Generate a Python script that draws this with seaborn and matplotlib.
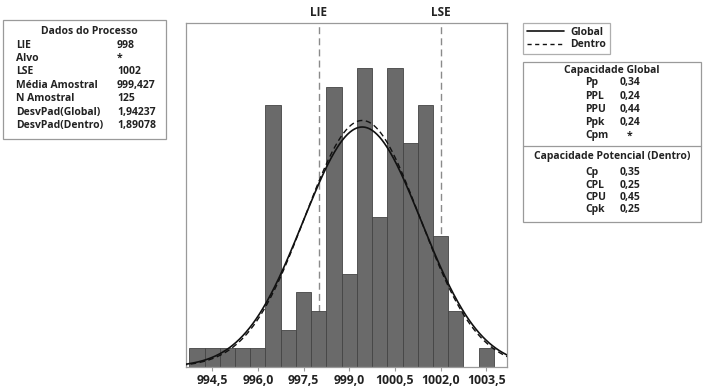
import numpy as np
import pandas as pd
import matplotlib
matplotlib.use("Agg")
import matplotlib.pyplot as plt
from matplotlib.patches import Rectangle
from matplotlib.lines import Line2D
import seaborn as sns

# ---------------- data ----------------
bin_centers = [994.0, 994.5, 995.0, 995.5, 996.0, 996.5, 997.0, 997.5, 998.0, 998.5,
               999.0, 999.5, 1000.0, 1000.5, 1001.0, 1001.5, 1002.0, 1002.5, 1003.0, 1003.5]
counts = [1, 1, 1, 1, 1, 14, 2, 4, 3, 15, 5, 16, 8, 16, 12, 14, 7, 3, 0, 1]
bin_width = 0.5
LIE = 998.0
LSE = 1002.0
mean = 999.427
n_amostral = 125
sd_global = 1.94237
sd_dentro = 1.89078
tick_values = [994.5, 996.0, 997.5, 999.0, 1000.5, 1002.0, 1003.5]
tick_labels = ["994,5", "996,0", "997,5", "999,0", "1000,5", "1002,0", "1003,5"]

dados_labels = ["LIE", "Alvo", "LSE", "Média Amostral", "N Amostral", "DesvPad(Global)", "DesvPad(Dentro)"]
dados_values = ["998", "*", "1002", "999,427", "125", "1,94237", "1,89078"]
glob_labels = ["Pp", "PPL", "PPU", "Ppk", "Cpm"]
glob_values = ["0,34", "0,24", "0,44", "0,24", "*"]
pot_labels = ["Cp", "CPL", "CPU", "Cpk"]
pot_values = ["0,35", "0,25", "0,45", "0,25"]

df = pd.DataFrame({"valor": bin_centers, "contagem": counts})

# ---------------- style ----------------
sns.set_theme(style="white")
plt.rcParams['font.family'] = ['Open Sans', 'DejaVu Sans']
TXT = "#222222"
FRAME = "#9a9a9a"
FW = "bold"

W, H = 710, 390
fig = plt.figure(figsize=(W / 100, H / 100), dpi=100)

def fx(px):
    return px / W

def fy(py):
    return 1 - py / H

ax = fig.add_axes([fx(186), fy(367), fx(507) - fx(186), fy(23) - fy(367)])

# spec limit lines behind bars
for v, lab in [(LIE, "LIE"), (LSE, "LSE")]:
    ax.axvline(v, color="#8a8a8a", lw=1.0, linestyle=(0, (5, 3)), zorder=0.5)
    ax.text(v, 1.012, lab, transform=ax.get_xaxis_transform(), ha="center", va="bottom",
            fontsize=8.5, fontweight=FW, color=TXT)

edges = [float(e) for e in np.arange(bin_centers[0] - bin_width / 2,
                                     bin_centers[-1] + bin_width, bin_width)]
sns.histplot(data=df, x="valor", weights="contagem", bins=edges, ax=ax, stat="count",
             color="#6a6a6a", edgecolor="#444444", linewidth=0.6, alpha=1.0, zorder=1)

xs = np.linspace(993.5, 1004.3, 400)
scale = n_amostral * bin_width
def npdf(x, m, s):
    return np.exp(-0.5 * ((x - m) / s) ** 2) / (s * np.sqrt(2 * np.pi))

sns.lineplot(x=xs, y=scale * npdf(xs, mean, sd_global), ax=ax, color="#111111", lw=1.2,
             zorder=3)
sns.lineplot(x=xs, y=scale * npdf(xs, mean, sd_dentro), ax=ax, color="#111111", lw=1.0,
             linestyle=(0, (4, 2.5)), zorder=3)

ax.set_xlim(993.64, 1004.18)
ax.set_ylim(0, 18.4)
ax.set_xticks(tick_values)
ax.set_xticklabels(tick_labels, fontsize=8.8, fontweight=FW, color=TXT)
ax.set_yticks([])
ax.set_xlabel("")
ax.set_ylabel("")
ax.tick_params(axis="x", length=3, width=0.8, color=FRAME, pad=2, bottom=True)
for s in ax.spines.values():
    s.set_color(FRAME)
    s.set_linewidth(0.9)

# ---------------- left box ----------------
fs = 7.5
fig.add_artist(Rectangle((fx(3), fy(139)), fx(166) - fx(3), fy(20) - fy(139),
                         transform=fig.transFigure, fill=False, edgecolor=FRAME, lw=0.9))
fig.text(fx(89), fy(31), "Dados do Processo", ha="center", va="center", fontsize=fs,
         fontweight=FW, color=TXT)
for i, (l, v) in enumerate(zip(dados_labels, dados_values)):
    y = 45 + i * 13.4
    fig.text(fx(16), fy(y), l, ha="left", va="center", fontsize=fs, fontweight=FW, color=TXT)
    fig.text(fx(117), fy(y), v, ha="left", va="center", fontsize=fs, fontweight=FW, color=TXT)

# ---------------- legend ----------------
h1 = Line2D([], [], color="#111111", lw=1.2, label="Global")
h2 = Line2D([], [], color="#111111", lw=1.0, linestyle=(0, (3, 2.5)), label="Dentro")
leg = fig.legend(handles=[h1, h2], loc="upper left", bbox_to_anchor=(fx(523), fy(23)),
                 borderaxespad=0, fancybox=False, frameon=True, handlelength=3.6,
                 handletextpad=0.6, borderpad=0.35, labelspacing=0.15,
                 prop={"size": fs, "weight": FW})
leg.get_frame().set_edgecolor(FRAME)
leg.get_frame().set_linewidth(0.9)
for t in leg.get_texts():
    t.set_color(TXT)

# ---------------- capability box ----------------
fig.add_artist(Rectangle((fx(523), fy(222)), fx(701) - fx(523), fy(62) - fy(222),
                         transform=fig.transFigure, fill=False, edgecolor=FRAME, lw=0.9))
fig.add_artist(Line2D([fx(523), fx(701)], [fy(146), fy(146)], transform=fig.transFigure,
                      color=FRAME, lw=0.9))
fig.text(fx(612), fy(70), "Capacidade Global", ha="center", va="center", fontsize=fs,
         fontweight=FW, color=TXT)
for i, (l, v) in enumerate(zip(glob_labels, glob_values)):
    y = 83 + i * 13.2
    fig.text(fx(585), fy(y), l, ha="left", va="center", fontsize=fs, fontweight=FW, color=TXT)
    fig.text(fx(620) if v != "*" else fx(627), fy(y), v, ha="left", va="center",
             fontsize=fs, fontweight=FW, color=TXT)
fig.text(fx(612), fy(157), "Capacidade Potencial (Dentro)", ha="center", va="center",
         fontsize=fs, fontweight=FW, color=TXT)
for i, (l, v) in enumerate(zip(pot_labels, pot_values)):
    y = 173 + i * 12.3
    fig.text(fx(585), fy(y), l, ha="left", va="center", fontsize=fs, fontweight=FW, color=TXT)
    fig.text(fx(620), fy(y), v, ha="left", va="center", fontsize=fs, fontweight=FW, color=TXT)

fig.savefig("out.png", dpi=100, facecolor="white")
